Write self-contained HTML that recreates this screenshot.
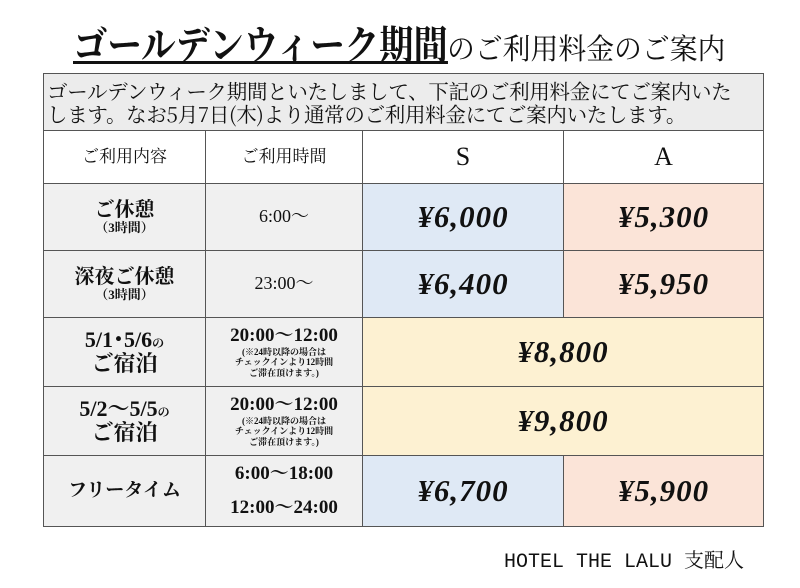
<!DOCTYPE html>
<html><head><meta charset="utf-8"><style>
body{margin:0;background:#fff;width:800px;height:588px;position:relative;overflow:hidden;font-family:"Liberation Serif","Noto Serif CJK SC","Noto Sans CJK JP",serif;color:#111}
.a{position:absolute}
.c{position:absolute;box-sizing:border-box;border:1px solid #555;display:flex;flex-direction:column;align-items:center;justify-content:center;text-align:center;line-height:1.1}
.p{font-size:31px;font-weight:bold;font-style:italic;letter-spacing:1px}
.g{background:#f0f0f0}.b{background:#dfe9f5}.o{background:#fbe4d8}.y{background:#fdf1d2}
.s{font-size:9px;font-weight:bold;line-height:1.15}
</style></head><body>
<div class="a" style="left:73px;top:18px;white-space:nowrap;font-family:'Noto Serif CJK SC',serif;line-height:50px">
<span style="display:inline-block;font-size:40px;font-weight:bold;text-decoration:underline;text-decoration-thickness:3px;transform:scaleX(0.86);transform-origin:left;margin-right:-62px">ゴールデンウィーク期間</span><span style="display:inline-block;font-size:29px;transform:scaleX(0.96);transform-origin:left">のご利用料金のご案内</span></div>
<div class="a" style="left:43px;top:73px;width:721px;height:58px;box-sizing:border-box;border:1px solid #555;background:#ececec;font-size:20.5px;line-height:23px;padding:5px 3px;font-family:'Noto Serif CJK SC',serif;white-space:nowrap;letter-spacing:-0.3px">ゴールデンウィーク期間といたしまして、下記のご利用料金にてご案内いた<br>します。なお5月7日(木)より通常のご利用料金にてご案内いたします。</div>
<div class="c" style="left:43px;top:130px;width:163px;height:54px;font-size:17px">ご利用内容</div>
<div class="c" style="left:205px;top:130px;width:158px;height:54px;font-size:17px">ご利用時間</div>
<div class="c" style="left:362px;top:130px;width:202px;height:54px;font-size:26px">S</div>
<div class="c" style="left:563px;top:130px;width:201px;height:54px;font-size:26px">A</div>

<div class="c g" style="left:43px;top:183px;width:163px;height:68px;font-weight:bold;font-size:20px">ご休憩<span style="font-size:13px">（3時間）</span></div>
<div class="c g" style="left:205px;top:183px;width:158px;height:68px;font-size:18px">6:00～</div>
<div class="c b p" style="left:362px;top:183px;width:202px;height:68px">¥6,000</div>
<div class="c o p" style="left:563px;top:183px;width:201px;height:68px">¥5,300</div>

<div class="c g" style="left:43px;top:250px;width:163px;height:68px;font-weight:bold;font-size:20px">深夜ご休憩<span style="font-size:13px">（3時間）</span></div>
<div class="c g" style="left:205px;top:250px;width:158px;height:68px;font-size:18px">23:00～</div>
<div class="c b p" style="left:362px;top:250px;width:202px;height:68px">¥6,400</div>
<div class="c o p" style="left:563px;top:250px;width:201px;height:68px">¥5,950</div>

<div class="c g" style="left:43px;top:317px;width:163px;height:70px;font-weight:bold;font-size:22px">5/1･5/6<span style="display:contents;font-size:12px">の</span><div>ご宿泊</div></div>
<div class="c g" style="left:205px;top:317px;width:158px;height:70px;font-size:19px;font-weight:bold">20:00～12:00<div class="s">(※24時以降の場合は<br>チェックインより12時間<br>ご滞在頂けます。)</div></div>
<div class="c y p" style="left:362px;top:317px;width:402px;height:70px">¥8,800</div>

<div class="c g" style="left:43px;top:386px;width:163px;height:70px;font-weight:bold;font-size:22px">5/2～5/5<span style="display:contents;font-size:12px">の</span><div>ご宿泊</div></div>
<div class="c g" style="left:205px;top:386px;width:158px;height:70px;font-size:19px;font-weight:bold">20:00～12:00<div class="s">(※24時以降の場合は<br>チェックインより12時間<br>ご滞在頂けます。)</div></div>
<div class="c y p" style="left:362px;top:386px;width:402px;height:70px">¥9,800</div>

<div class="c g" style="left:43px;top:455px;width:163px;height:72px;font-weight:bold;font-size:19px">フリータイム</div>
<div class="c g" style="left:205px;top:455px;width:158px;height:72px;font-size:19px;font-weight:bold;line-height:34px">6:00～18:00<br>12:00～24:00</div>
<div class="c b p" style="left:362px;top:455px;width:202px;height:72px">¥6,700</div>
<div class="c o p" style="left:563px;top:455px;width:201px;height:72px">¥5,900</div>

<div class="a" style="left:504px;top:544px;font-size:20px;white-space:nowrap;font-family:'Liberation Mono','Noto Serif CJK SC',monospace">HOTEL THE LALU 支配人</div>
</body></html>
